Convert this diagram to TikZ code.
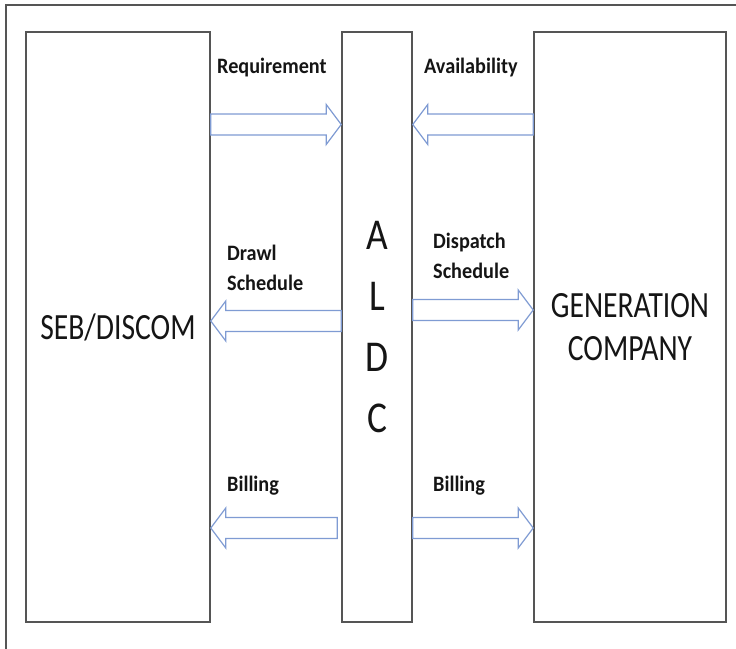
\documentclass[tikz,border=0pt]{standalone}
\usepackage{fontspec}
\usepackage{graphicx}
\setmainfont{Carlito}
\usetikzlibrary{calc}
\definecolor{arrblue}{HTML}{7F9BD3}
\definecolor{boxgray}{HTML}{555555}
\definecolor{txt}{HTML}{151515}
\newcommand\sq[2]{\scalebox{#1}[1]{#2}}
\newcommand\rblock[2]{% #1 tail, #2 tip (rightward)
  \draw[barr] let \p1=(#1), \p2=(#2) in
    (\x1,\y1+10.5pt) -- (\x2-15pt,\y1+10.5pt) -- (\x2-15pt,\y1+20pt) -- (\x2,\y1)
    -- (\x2-15pt,\y1-20pt) -- (\x2-15pt,\y1-10.5pt) -- (\x1,\y1-10.5pt) -- cycle;}
\newcommand\lblock[2]{% #1 tip, #2 tail (leftward)
  \draw[barr] let \p1=(#1), \p2=(#2) in
    (\x1,\y1) -- (\x1+15pt,\y1+20pt) -- (\x1+15pt,\y1+10.5pt) -- (\x2,\y1+10.5pt)
    -- (\x2,\y1-10.5pt) -- (\x1+15pt,\y1-10.5pt) -- (\x1+15pt,\y1-20pt) -- cycle;}
\tikzset{
  box/.style={draw=boxgray, line width=1.6pt, fill=white, inner sep=0pt, text=txt, align=center},
  barr/.style={draw=arrblue, line width=1.2pt, fill=white, line join=miter},
  lbl/.style={font=\fontsize{22}{30}\selectfont\bfseries, text=txt, anchor=west, align=left, inner sep=0pt},
  big/.style={font=\fontsize{37}{43}\selectfont},
  huge/.style={font=\fontsize{44}{61}\selectfont},
}
\begin{document}
\begin{tikzpicture}[x=1pt,y=-1pt]
\useasboundingbox (0,0) rectangle (736,648);
\draw[boxgray, line width=1.4pt] (6,5) rectangle (760,670);
% boxes
\node[box, big, minimum width=184pt, minimum height=590pt] (seb) at (118,327) {\raisebox{-3pt}{\sq{0.8}{SEB/DISCOM}}};
\node[box, huge, minimum width=70pt, minimum height=590pt] (aldc) at (377,327)
  {\sq{0.85}{A}\\\sq{0.85}{L}\\\sq{0.85}{D}\\\sq{0.85}{C}};
\node[box, big, minimum width=192pt, minimum height=590pt] (gen) at (630,327)
  {\sq{0.8}{GENERATION}\\\sq{0.8}{COMPANY}};
% arrow end points
\coordinate (reqA) at (seb.east |- 0,124.5);
\coordinate (reqB) at (aldc.west |- 0,124.5);
\coordinate (avA) at (aldc.east |- 0,124.5);
\coordinate (avB) at (gen.west |- 0,124.5);
\coordinate (drA) at (seb.east |- 0,321);
\coordinate (drB) at (aldc.west |- 0,321);
\coordinate (diA) at (aldc.east |- 0,310);
\coordinate (diB) at (gen.west |- 0,310);
\coordinate (b1A) at (seb.east |- 0,528);
\coordinate (b1B) at ([xshift=-4pt]aldc.west |- 0,528);
\coordinate (b2A) at (aldc.east |- 0,528);
\coordinate (b2B) at (gen.west |- 0,528);
% arrows
\rblock{reqA}{reqB}
\lblock{avA}{avB}
\lblock{drA}{drB}
\rblock{diA}{diB}
\lblock{b1A}{b1B}
\rblock{b2A}{b2B}
% labels
\node[lbl] (lreq) at (217,68) {\sq{0.92}{Requirement}};
\node[lbl] (lav) at (424,68) {\sq{0.92}{Availability}};
\node[lbl] (ldr) at (227,268) {\sq{0.92}{Drawl}\\\sq{0.92}{Schedule}};
\node[lbl] (ldi) at (433,256) {\sq{0.92}{Dispatch}\\\sq{0.92}{Schedule}};
\node[lbl] (lb1) at (227,486) {\sq{0.92}{Billing}};
\node[lbl] (lb2) at (433,486) {\sq{0.92}{Billing}};
\end{tikzpicture}
\end{document}
